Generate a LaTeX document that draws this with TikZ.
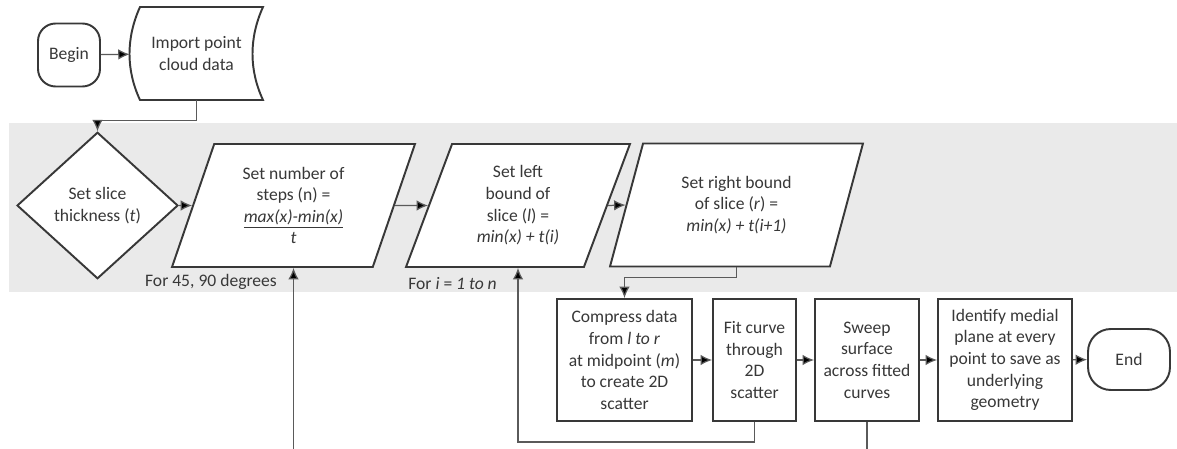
\documentclass[tikz,border=0pt]{standalone}
\usepackage{fontspec}
\setmainfont{Carlito}
\usetikzlibrary{arrows.meta}
\usetikzlibrary{shapes.geometric}

\definecolor{linegray}{HTML}{383838}
\definecolor{conngray}{HTML}{5A5A5A}
\definecolor{bandgray}{HTML}{EAEAEA}

\tikzset{
  box/.style={draw=linegray, line width=1.1pt, fill=white},
  proc/.style={box, align=center, minimum height=2.44cm},
  term/.style={box, rounded corners=10pt, align=center},
  decision/.style={box, diamond, align=center,
    minimum width=3.22cm, minimum height=2.42cm},
  io/.style={box, trapezium, trapezium stretches body, align=center,
    trapezium left angle=64.6, trapezium right angle=115.4,
    minimum height=2.46cm},
  conn/.style={draw=conngray, line width=0.7pt}
}

\begin{document}
\begin{tikzpicture}[x=0.02cm, y=-0.02cm,
  >={Latex[length=6.5pt,width=6pt,fill=black]},
  font=\fontsize{10}{12.3}\selectfont, text=linegray]
  \clip (0,0) rectangle (1177,449);
  \fill[bandgray] (9,123) rectangle (1177,292);

  % start and data input
  \node (bg) [term, minimum width=1.24cm, minimum height=1.26cm] at (69,55) {Begin};
  \draw[box] (140,7) -- (263,7) .. controls (249,38) and (249,70) .. (263,100)
    -- (140,100) .. controls (126,70) and (126,38) .. (140,7) -- cycle;
  \node (ip) [align=center, minimum width=2.66cm, minimum height=1.86cm]
    at (196.5,53.5) {Import point\\cloud data};

  % slicing loop
  \node (st) [decision] at (97.5,205.5) {Set slice\\thickness (\textit{t})};
  \node (ns) [io, minimum width=4.86cm] at (293.5,205.5)
    {Set number of\\steps (n) =\\\underline{\textit{max(x)-min(x)}}\\\textit{t}};
  \node (lb) [io, minimum width=4.48cm, trapezium left angle=63.2,
    trapezium right angle=116.8] at (518,205.5)
    {Set left\\bound of\\slice (\textit{l}) =\\\textit{min(x) + t(i)}};
  \node (rb) [io, minimum width=5.06cm] at (736.5,205)
    {Set right bound\\of slice (\textit{r}) =\\\textit{min(x) + t(i+1)}};
  \node (fd) [anchor=east] at (283,282) {For 45, 90 degrees};
  \node (fi) [anchor=east] at (503,284) {For \textit{i} = \textit{1 to n}};

  % per slice steps
  \node (cd) [proc, minimum width=2.7cm] at (624.5,360)
    {Compress data\\from \textit{l to r}\\at midpoint (\textit{m})\\to create 2D\\scatter};
  \node (fc) [proc, minimum width=1.66cm] at (754.5,360) {Fit curve\\through\\2D\\scatter};
  \node (ss) [proc, minimum width=2.08cm] at (867,360) {Sweep\\surface\\across fitted\\curves};
  \node (im) [proc, minimum width=2.68cm] at (1005,360)
    {Identify medial\\plane at every\\point to save as\\underlying\\geometry};
  \node (en) [term, rounded corners=13pt, minimum width=1.64cm, minimum height=1.22cm]
    at (1129,359.5) {End};

  \draw[conn,->] (bg) -- (ip);
  \draw[conn,->] (ip.south) -- ++(0,20) -| (st.north);
  \draw[conn,->] (st.east) -- (ns.west);
  \draw[conn,->] (ns.east) -- (lb.west);
  \draw[conn,->] (lb.east) -- (rb.west);
  \draw[conn,->] (rb.south) -- ++(0,10) -| (cd.north);
  \draw[conn,->] (cd) -- (fc);
  \draw[conn,->] (fc) -- (ss);
  \draw[conn,->] (ss) -- (im);
  \draw[conn,->] (im) -- (en);
  \draw[conn,->] (fc.south) -- ++(0,20) -| (lb.south);
  \draw[conn,->] (ss.south) -- ++(0,33) -| (ns.south);
\end{tikzpicture}
\end{document}
